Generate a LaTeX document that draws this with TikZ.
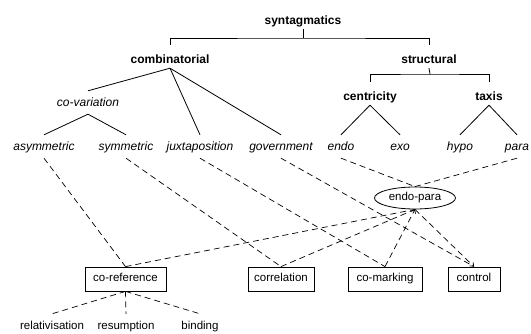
\documentclass[tikz,border=0pt]{standalone}
\usepackage{fontspec}
\setmainfont{Liberation Sans}
\usetikzlibrary{shapes.geometric,arrows.meta}
\begin{document}
\begin{tikzpicture}[x=1pt,y=-1pt,
  bold/.style={font=\fontsize{12}{14}\selectfont\bfseries, anchor=base, text height=17pt, text depth=2pt, inner ysep=2pt, inner xsep=1pt},
  ital/.style={font=\fontsize{12}{14}\selectfont\itshape, anchor=base, text height=12pt, text depth=3pt, inner ysep=4pt, inner xsep=1pt},
  leaf/.style={font=\fontsize{11.5}{14}\selectfont, anchor=base, text height=12pt, text depth=3pt, inner ysep=4pt, inner xsep=1pt},
  box/.style={draw, line width=0.8pt, font=\fontsize{11.5}{14}\selectfont, minimum height=24pt, inner xsep=3pt, inner ysep=0pt, text height=8.5pt, text depth=2.5pt},
  tree/.style={line width=0.8pt},
  dashline/.style={line width=0.7pt, dash pattern=on 6pt off 4pt},
  tip/.style={-{Straight Barb[length=3pt,width=5pt]}},
]
\useasboundingbox (0,0) rectangle (531,334);
% headings
\node[bold] (syn) at (303,25) {syntagmatics};
\node[bold] (comb) at (170,64) {combinatorial};
\node[bold] (struct) at (429,64) {structural};
\node[bold] (cent) at (370,101) {centricity};
\node[bold] (taxis) at (489,101) {taxis};
% italic categories
\node[ital] (covar) at (88,107) {co-variation};
\node[ital] (asym) at (44,151) {asymmetric};
\node[ital] (sym) at (126,151) {symmetric};
\node[ital] (juxt) at (200,151) {juxtaposition};
\node[ital] (gov) at (281,151) {government};
\node[ital] (endo) at (341,151) {endo};
\node[ital] (exo) at (400,151) {exo};
\node[ital] (hypo) at (460,151) {hypo};
\node[ital] (para) at (517,151) {para};
% endo-para
\node[draw, ellipse, line width=0.8pt, minimum width=81pt, minimum height=22pt, inner sep=0pt, font=\fontsize{11.5}{14}\selectfont] (ep) at (415,198) {endo-para};
% boxes
\node[box, minimum width=81pt] (coref) at (125.5,279) {co-reference};
\node[box, minimum width=66pt] (corr) at (281,279) {correlation};
\node[box, minimum width=74pt] (comark) at (385,279) {co-marking};
\node[box, minimum width=52pt] (ctrl) at (474,279) {control};
% leaves
\node[leaf] (relat) at (52,330) {relativisation};
\node[leaf] (resump) at (126,330) {resumption};
\node[leaf] (binding) at (200,330) {binding};
% tree bars
\coordinate (bar1) at (303,38);
\coordinate (bar2) at (430,74);
\draw[tree] (syn.south) -- (bar1);
\draw[tree] (comb.north) |- (bar1) -| (struct.north);
\draw[tree] (struct.south) -- (bar2);
\draw[tree] (cent.north) |- (bar2) -| (taxis.north);
% solid branches
\draw[tree] (comb.south) -- (covar.north);
\draw[tree] (comb.south) -- (juxt.north);
\draw[tree] (comb.south) -- (gov.north);
\draw[tree] (covar.south) -- (asym.north);
\draw[tree] (covar.south) -- (sym.north);
\draw[tree] (cent.south) -- (endo.north);
\draw[tree] (cent.south) -- (exo.north);
\draw[tree] (taxis.south) -- (hypo.north);
\draw[tree] (taxis.south) -- (para.north);
% dashed links
\draw[dashline] (asym.south) -- (coref.north);
\draw[dashline] (sym.south) -- (corr.north);
\draw[dashline] (juxt.south) -- (comark.north);
\draw[dashline] (gov.south) -- (ctrl.north);
\draw[dashline] (endo.south) -- (ep.north);
\draw[dashline] (para.south) -- (ep.north);
\draw[dashline] (coref.north) -- (ep.south);
\draw[dashline] (corr.north) -- (ep.south);
\draw[dashline, tip] (comark.north) -- (ep.south);
\draw[dashline, tip] (ep.south) -- (ctrl.north);
\draw[dashline] (coref.south) -- (relat.north);
\draw[dashline] (coref.south) -- (resump.north);
\draw[dashline] (coref.south) -- (binding.north);
\end{tikzpicture}
\end{document}
